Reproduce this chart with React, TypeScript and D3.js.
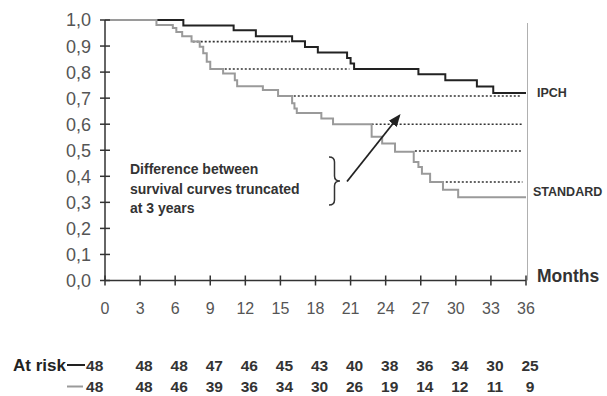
import React from 'react';
import { scaleLinear, line, curveStepAfter, range } from 'd3';

// Kaplan-Meier steps (months, survival)
const ipchTimes = [0, 6.7, 11.0, 12.9, 16.0, 17.1, 18.2, 20.7, 21.0, 21.3, 26.8, 29.1, 31.8, 33.2];
const ipchSurv = [1, 0.979, 0.961, 0.938, 0.918, 0.896, 0.875, 0.854, 0.833, 0.812, 0.792, 0.769, 0.745, 0.72];

const stdTimes = [0, 4.4, 5.8, 6.1, 6.6, 7.4, 8.1, 8.4, 8.7, 9.0, 10.1, 11.1, 11.3, 13.5, 14.8, 16.0, 16.2, 16.4, 18.5, 19.5, 22.8, 23.7, 24.8, 26.4, 26.8, 27.1, 27.8, 28.9, 30.2];
const stdSurv = [1, 0.981, 0.969, 0.954, 0.938, 0.917, 0.897, 0.872, 0.84, 0.812, 0.795, 0.769, 0.746, 0.731, 0.708, 0.68, 0.66, 0.643, 0.622, 0.6, 0.552, 0.526, 0.494, 0.455, 0.436, 0.41, 0.378, 0.348, 0.32];

// dotted horizontal differences
const dotLevels = [0.917, 0.812, 0.708, 0.6, 0.497, 0.378];
const dotFrom = [7.5, 9.9, 15.8, 22.8, 26.5, 28.8];
const dotTo = [15.8, 20.9, 35.5, 35.7, 35.7, 35.7];

const monthTicks = range(0, 37, 3);
const survTicks = range(0, 11).map(d => d / 10);
const riskIpch = [48, 48, 48, 47, 46, 45, 43, 40, 38, 36, 34, 30, 25];
const riskStd = [48, 48, 46, 39, 36, 34, 30, 26, 19, 14, 12, 11, 9];

const W = 607;
const H = 396;
const dark = '#222';
const light = '#9a9a9a';

const App = () => {
    const x = scaleLinear().domain([0, 36]).range([105, 526]);
    const y = scaleLinear().domain([0, 1]).range([280.5, 20]);

    const stepLine = line<[number, number]>()
        .x(d => x(d[0]))
        .y(d => y(d[1]))
        .curve(curveStepAfter);

    const toPts = (t: number[], s: number[]): [number, number][] => {
        const pts = t.map((v, i) => [v, s[i]] as [number, number]);
        pts.push([36, s[s.length - 1]]);
        return pts;
    };

    // right-pointing curly brace
    const bx = 329, by0 = 157, by1 = 205, bw = 11;
    const bym = (by0 + by1) / 2;
    const mid = bx + bw / 2;
    const brace = `M${bx},${by0} Q${mid},${by0} ${mid},${by0 + 5} L${mid},${bym - 5} Q${mid},${bym} ${bx + bw},${bym} Q${mid},${bym} ${mid},${bym + 5} L${mid},${by1 - 5} Q${mid},${by1} ${bx},${by1}`;

    const font = 'Liberation Sans, Arial, sans-serif';

    return (
        <svg width={W} height={H} style={{ position: 'absolute', left: 0, top: 0, background: '#fff' }} fontFamily={font}>
            <defs>
                <marker id="arrow" viewBox="0 0 10 10" refX="8" refY="5" markerWidth="7" markerHeight="7" orient="auto">
                    <path d="M0,1 L10,5 L0,9 z" fill={dark} />
                </marker>
            </defs>

            {/* vertical end line */}
            <line x1={x(36) + 1.5} x2={x(36) + 1.5} y1={23} y2={y(0)} stroke="#b0b0b0" strokeWidth={1} />

            {/* dotted differences */}
            {dotLevels.map((lv, i) => (
                <line key={i} x1={x(dotFrom[i])} x2={x(dotTo[i])} y1={y(lv)} y2={y(lv)}
                    stroke="#333" strokeWidth={1.6} strokeDasharray="2 2" />
            ))}

            {/* curves */}
            <path d={stepLine(toPts(ipchTimes, ipchSurv)) || ''} fill="none" stroke={dark} strokeWidth={2} />
            <path d={stepLine(toPts(stdTimes, stdSurv)) || ''} fill="none" stroke={light} strokeWidth={2} />

            {/* y axis */}
            <line x1={x(0)} x2={x(0)} y1={y(1)} y2={y(0)} stroke="#333" strokeWidth={1.5} />
            {survTicks.map(t => (
                <g key={t}>
                    <line x1={x(0) - 5} x2={x(0) + 5} y1={y(t)} y2={y(t)} stroke="#333" strokeWidth={1.5} />
                    <text x={91} y={y(t)} dy="0.36em" textAnchor="end" fontSize={18} fill="#555">
                        {t.toFixed(1).replace('.', ',')}
                    </text>
                </g>
            ))}

            {/* x axis */}
            <line x1={x(0)} x2={x(36)} y1={y(0)} y2={y(0)} stroke="#333" strokeWidth={1.5} />
            {monthTicks.map(t => (
                <g key={t}>
                    <line x1={x(t)} x2={x(t)} y1={y(0) - 5} y2={y(0) + 5} stroke="#333" strokeWidth={1.5} />
                    <text x={x(t)} y={308} dy="0.36em" textAnchor="middle" fontSize={16} fill="#555">{t}</text>
                </g>
            ))}
            <text x={537} y={276} dy="0.36em" fontSize={17.5} fontWeight="bold" fill="#333">Months</text>

            {/* curve labels */}
            <text x={537} y={92} dy="0.36em" fontSize={12.5} fontWeight="bold" fill="#333">IPCH</text>
            <text x={533} y={191} dy="0.36em" fontSize={12.5} fontWeight="bold" fill="#333">STANDARD</text>

            {/* annotation */}
            <text fontSize={14} fontWeight="bold" fill="#333">
                <tspan x={130} y={174}>Difference between</tspan>
                <tspan x={130} y={194}>survival curves truncated</tspan>
                <tspan x={130} y={213}>at 3 years</tspan>
            </text>
            <path d={brace} fill="none" stroke="#333" strokeWidth={1.5} />
            <line x1={347} y1={181.5} x2={399} y2={116} stroke={dark} strokeWidth={1.8} markerEnd="url(#arrow)" />

            {/* at risk table */}
            <text x={13} y={365} dy="0.36em" fontSize={17} fontWeight="bold" fill="#222">At risk</text>
            <line x1={67} x2={85} y1={365} y2={365} stroke={dark} strokeWidth={2} />
            <line x1={67} x2={83} y1={386.5} y2={386.5} stroke={light} strokeWidth={2} />
            {monthTicks.map((t, i) => {
                const cx = i === 0 ? 94.7 : x(t) + 4;
                return (
                    <g key={t} fontSize={15.5} fontWeight="bold" fill="#333" textAnchor="middle">
                        <text x={cx} y={365} dy="0.36em">{riskIpch[i]}</text>
                        <text x={cx} y={386.5} dy="0.36em">{riskStd[i]}</text>
                    </g>
                );
            })}
        </svg>
    );
};

export default App;
